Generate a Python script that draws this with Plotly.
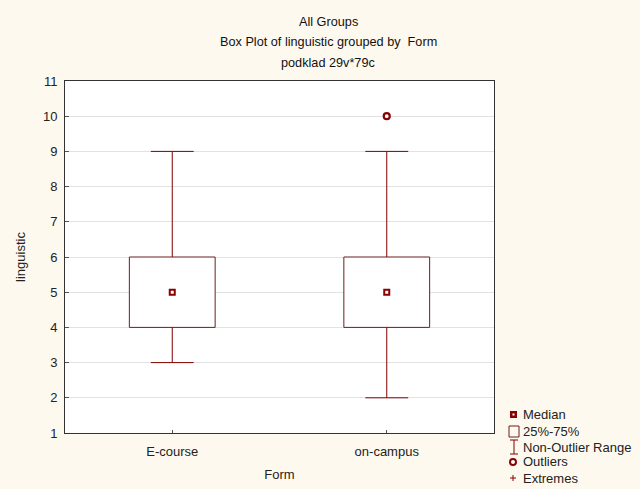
import plotly.graph_objects as go

categories = ["E-course", "on-campus"]
q1 = [4, 4]
median = [5, 5]
q3 = [6, 6]
whisker_low = [3, 2]
whisker_high = [9, 9]
outliers_x = ["on-campus"]
outliers_y = [10]
y_ticks = list(range(1, 12))
legend_labels = ["Median", "25%-75%", "Non-Outlier Range", "Outliers", "Extremes"]

RED = "#800000"
DRED = "#8B0000"
BG = "#FEF9EF"
FONT = "Liberation Sans"
FS = 13

# plot area in pixels
L, R, T, B = 65, 494, 81, 433
def px(x):
    return (x - L) / (R - L)
def py(y):
    return (B - y) / (B - T)

pos = {c: i for i, c in enumerate(categories)}
bw = 0.4 / 2
cw = 0.2 / 2

bx, by, wx, wy = [], [], [], []
for i, c in enumerate(categories):
    p = pos[c]
    bx += [p - bw, p + bw, p + bw, p - bw, p - bw, None]
    by += [q1[i], q1[i], q3[i], q3[i], q1[i], None]
    wx += [p, p, None, p - cw, p + cw, None, p, p, None, p - cw, p + cw, None]
    wy += [q3[i], whisker_high[i], None, whisker_high[i], whisker_high[i], None,
           q1[i], whisker_low[i], None, whisker_low[i], whisker_low[i], None]

fig = go.Figure()
fig.add_trace(go.Scatter(x=bx, y=by, mode="lines", fill="toself", fillcolor="white",
                         line=dict(color="#6B1F1F", width=1), name="25%-75%"))
fig.add_trace(go.Scatter(x=wx, y=wy, mode="lines", line=dict(color=RED, width=1),
                         name="Non-Outlier Range"))
fig.add_trace(go.Scatter(x=[pos[c] for c in categories], y=median, mode="markers",
                         marker=dict(symbol="square", size=5, color="white",
                                     line=dict(color=DRED, width=2)),
                         name="Median"))
fig.add_trace(go.Scatter(x=[pos[c] for c in outliers_x], y=outliers_y, mode="markers",
                         marker=dict(symbol="circle", size=6, color="white",
                                     line=dict(color=DRED, width=2.2)),
                         name="Outliers"))

fig.update_layout(
    width=640, height=489,
    margin=dict(l=L, r=640 - R, t=T, b=489 - B),
    paper_bgcolor=BG, plot_bgcolor="white",
    font=dict(family=FONT, size=FS, color="#222222"),
    showlegend=False,
    xaxis=dict(range=[-0.5, 1.5], tickvals=[pos[c] for c in categories],
               ticktext=categories, ticks="inside", ticklen=3, tickcolor="#555",
               ticklabelstandoff=6, automargin=False,
               showgrid=False, zeroline=False, showline=True, linecolor="#333",
               linewidth=1, mirror=True,
               title=dict(text="Form", font=dict(size=FS), standoff=12)),
    yaxis=dict(range=[1, 11], tickvals=y_ticks, ticks="inside", ticklen=4,
               tickcolor="#555", ticklabelstandoff=4, automargin=False,
               showgrid=True, gridcolor="#E2E2E2", gridwidth=1,
               zeroline=False, showline=True, linecolor="#333", linewidth=1,
               mirror=True, title=dict(text="linguistic", font=dict(size=FS), standoff=14)),
)

titles = [("All Groups", 22), ("Box Plot of linguistic grouped by  Form", 42),
          ("podklad 29v*79c", 63)]
for t, ypx in titles:
    fig.add_annotation(text=t, xref="paper", yref="paper",
                       x=px(328), y=py(ypx),
                       xanchor="center", yanchor="middle", showarrow=False,
                       font=dict(size=12.7, family=FONT, color="#111"))

# manual legend (STATISTICA style)
leg_y = [414, 431, 447, 462, 478]
for lab, ly in zip(legend_labels, leg_y):
    fig.add_annotation(text=lab, xref="paper", yref="paper", x=px(521), y=py(ly),
                       xanchor="left", yanchor="middle", showarrow=False,
                       font=dict(size=FS, family=FONT, color="#222"))

def rect(x0, y0, x1, y1, **kw):
    fig.add_shape(type="rect", xref="paper", yref="paper",
                  x0=px(x0), x1=px(x1), y0=py(y0), y1=py(y1), **kw)
def seg(x0, y0, x1, y1, color=RED, w=1):
    fig.add_shape(type="line", xref="paper", yref="paper",
                  x0=px(x0), x1=px(x1), y0=py(y0), y1=py(y1),
                  line=dict(color=color, width=w))

# Median symbol
rect(510, 411, 517, 418, fillcolor=DRED, line=dict(width=0))
rect(512.5, 413.5, 514.5, 415.5, fillcolor="white", line=dict(width=0))
# 25%-75% symbol
rect(509, 426, 519, 437, fillcolor="rgba(0,0,0,0)", line=dict(color="#6B1F1F", width=1))
# Non-outlier range symbol
seg(510, 440, 518, 440)
seg(514, 440, 514, 454)
seg(510, 454, 518, 454)
# Outliers symbol
fig.add_shape(type="circle", xref="paper", yref="paper",
              x0=px(510), x1=px(516), y0=py(459), y1=py(465),
              fillcolor="white", line=dict(color=DRED, width=2))
# Extremes symbol
seg(510, 478, 516, 478, color=DRED)
seg(513, 475, 513, 481, color=DRED)

fig.write_html("out.html", config={"displayModeBar": False},
               post_script="document.body.style.margin='0';document.body.style.overflow='hidden';")
